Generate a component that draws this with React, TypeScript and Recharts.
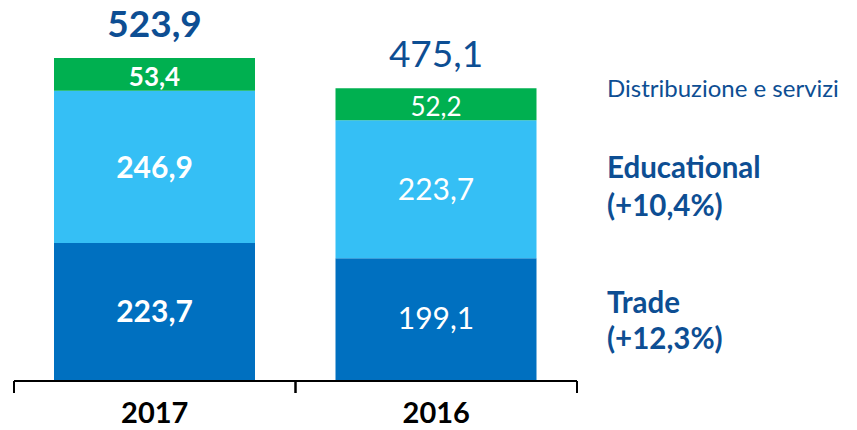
import React from "react";
import { BarChart, Bar, XAxis, YAxis, LabelList } from "recharts";

const years = ["2017", "2016"];
const trade = [223.7, 199.1];
const educational = [246.9, 223.7];
const distribuzione = [53.4, 52.2];
const totals = [523.9, 475.1];

const annotations = [
  { lines: ["Distribuzione e servizi"], bold: false },
  { lines: ["Educational", "(+10,4%)"], bold: true },
  { lines: ["Trade", "(+12,3%)"], bold: true },
];

const data = years.map((y, i) => ({
  year: y,
  trade: trade[i],
  educational: educational[i],
  distribuzione: distribuzione[i],
  total: totals[i],
}));

const FONT = "Lato, 'Open Sans', sans-serif";
const TEXT_BLUE = "#0D4E93";
const fmt = (v: number) => v.toFixed(1).replace(".", ",");

const makeInner = (fs: number, dyExtra: number) => (props: any) => {
  const { x, y, width, height, value, index } = props;
  const cx = Number(x) + Number(width) / 2;
  const cy = Number(y) + Number(height) / 2 + dyExtra;
  return (
    <text
      x={cx}
      y={cy + fs * 0.36}
      textAnchor="middle"
      fill="#fff"
      fontFamily={FONT}
      fontSize={fs}
      fontWeight={index === 0 ? 700 : 400}
    >
      {fmt(Number(value))}
    </text>
  );
};

const TotalLabel = (props: any) => {
  const { x, y, width, index } = props;
  const fs = 37;
  const cx = Number(x) + Number(width) / 2;
  const cy = Number(y) - 34;
  return (
    <text
      x={cx}
      y={cy + fs * 0.36}
      textAnchor="middle"
      fill={TEXT_BLUE}
      fontFamily={FONT}
      fontSize={fs}
      fontWeight={index === 0 ? 700 : 400}
    >
      {fmt(totals[index])}
    </text>
  );
};

const AxisTick = (props: any) => {
  const { x, y, payload } = props;
  const off = payload && payload.offset ? payload.offset : 140.75;
  return (
    <g>
      <line x1={x - off} x2={x - off} y1={y} y2={y + 12} stroke="#000" strokeWidth={2} />
      <line x1={x + off} x2={x + off} y1={y} y2={y + 12} stroke="#000" strokeWidth={2} />
      <text
        x={x}
        y={y + 42}
        textAnchor="middle"
        fill="#000"
        fontFamily={FONT}
        fontSize={29}
        fontWeight={700}
      >
        {payload.value}
      </text>
    </g>
  );
};

const annY = [[88], [167, 205], [302, 338]];

export default function App() {
  return (
    <div style={{ position: "absolute", left: 0, top: 0, width: 857, height: 430, background: "#fff" }}>
      <BarChart
        width={857}
        height={430}
        data={data}
        margin={{ top: 0, right: 280, bottom: 0, left: 14 }}
      >
        <YAxis hide domain={[0, 618]} type="number" />
        <XAxis
          dataKey="year"
          height={49}
          axisLine={{ stroke: "#000", strokeWidth: 2 }}
          tickLine={false}
          tickSize={0}
          tickMargin={0}
          tick={<AxisTick />}
          interval={0}
        />
        <Bar dataKey="trade" stackId="a" fill="#0070C0" barSize={201} isAnimationActive={false}>
          <LabelList dataKey="trade" content={makeInner(30, -1)} />
        </Bar>
        <Bar dataKey="educational" stackId="a" fill="#35BFF5" barSize={201} isAnimationActive={false}>
          <LabelList dataKey="educational" content={makeInner(30, 0)} />
        </Bar>
        <Bar dataKey="distribuzione" stackId="a" fill="#00B050" barSize={201} isAnimationActive={false}>
          <LabelList dataKey="distribuzione" content={makeInner(26, 2)} />
          <LabelList dataKey="total" content={TotalLabel} />
        </Bar>
      </BarChart>
      <svg
        width={857}
        height={430}
        style={{ position: "absolute", left: 0, top: 0, pointerEvents: "none" }}
      >
        {annotations.map((a, i) =>
          a.lines.map((ln, j) => {
            const fs = a.bold ? 29.5 : 24;
            return (
              <text
                key={`${i}-${j}`}
                x={607}
                y={annY[i][j] + fs * 0.36}
                fill={TEXT_BLUE}
                fontFamily={FONT}
                fontSize={fs}
                fontWeight={a.bold ? 700 : 400}
              >
                {ln}
              </text>
            );
          })
        )}
      </svg>
    </div>
  );
}
